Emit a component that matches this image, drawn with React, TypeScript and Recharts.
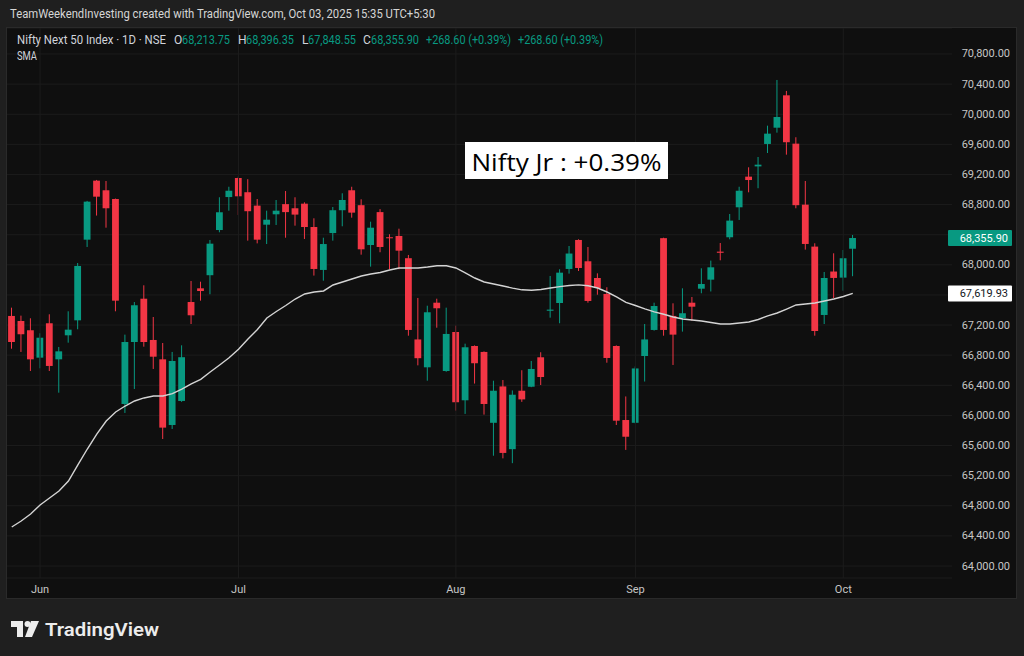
import React from 'react';
import { ComposedChart, Bar, Line, XAxis, YAxis, CartesianGrid, ReferenceLine } from 'recharts';

const dates = [
  'May 28', 'May 29', 'May 30',
  'Jun 2', 'Jun 3', 'Jun 4', 'Jun 5', 'Jun 6', 'Jun 9', 'Jun 10', 'Jun 11', 'Jun 12', 'Jun 13',
  'Jun 16', 'Jun 17', 'Jun 18', 'Jun 19', 'Jun 20', 'Jun 23', 'Jun 24', 'Jun 25', 'Jun 26', 'Jun 27', 'Jun 30',
  'Jul 1', 'Jul 2', 'Jul 3', 'Jul 4', 'Jul 7', 'Jul 8', 'Jul 9', 'Jul 10', 'Jul 11', 'Jul 14', 'Jul 15',
  'Jul 16', 'Jul 17', 'Jul 18', 'Jul 21', 'Jul 22', 'Jul 23', 'Jul 24', 'Jul 25', 'Jul 28', 'Jul 29', 'Jul 30', 'Jul 31',
  'Aug 1', 'Aug 4', 'Aug 5', 'Aug 6', 'Aug 7', 'Aug 8', 'Aug 11', 'Aug 12', 'Aug 13', 'Aug 14',
  'Aug 18', 'Aug 19', 'Aug 20', 'Aug 21', 'Aug 22', 'Aug 25', 'Aug 26', 'Aug 28', 'Aug 29',
  'Sep 1', 'Sep 2', 'Sep 3', 'Sep 4', 'Sep 5', 'Sep 8', 'Sep 9', 'Sep 10', 'Sep 11', 'Sep 12',
  'Sep 15', 'Sep 16', 'Sep 17', 'Sep 18', 'Sep 19', 'Sep 22', 'Sep 23', 'Sep 24', 'Sep 25', 'Sep 26',
  'Sep 29', 'Sep 30', 'Oct 1', 'Oct 3',
];

const opens = [
  67321, 67254, 67131,
  66767, 67224, 66745, 67064, 67263, 68334, 69118, 68990, 68874, 66152,
  66975, 67550, 67002, 66745, 65873, 66192, 67506, 67688, 67862, 68462, 68900,
  69153, 68964, 68786, 68533, 68671, 68806, 68751, 68812, 68502, 67932, 68422,
  68725, 68990, 68792, 68263, 68700, 68366, 68383, 68088, 67009, 66639, 67497, 66590,
  67108, 66201, 66922, 66843, 65902, 66385, 65552, 66328, 66381, 66772,
  67390, 67493, 67945, 68330, 68047, 67825, 67613, 66922, 65939,
  65902, 66789, 67135, 68354, 67321, 67294, 67497, 67683, 67803, 68175,
  68366, 68764, 69171, 69307, 69605, 69821, 70251, 69609, 68799, 68242,
  67334, 67911, 67830, 68213.75,
];

const highs = [
  67431, 67325, 67290,
  67091, 67343, 66909, 67383, 68024, 68849, 69127, 69113, 68880, 67073,
  67506, 67728, 67307, 66962, 66843, 66931, 67785, 67776, 68330, 68897, 69037,
  69170, 69137, 68874, 68719, 68861, 68980, 68897, 68830, 68618, 68360, 68768,
  68950, 69037, 68870, 68573, 68740, 68406, 68480, 68131, 67560, 67457, 67550, 67431,
  67192, 66953, 66930, 66850, 66461, 66470, 66332, 66600, 66723, 66839,
  67852, 67941, 68250, 68339, 68237, 67887, 67702, 66930, 66252,
  66650, 67214, 67497, 68360, 67489, 67688, 67573, 67954, 68056, 68290,
  68675, 69037, 69295, 69432, 69848, 70455, 70309, 69694, 69113, 68286,
  67905, 68153, 68197, 68396.35,
];

const lows = [
  66886, 66843, 66590,
  66626, 66590, 66302, 66966, 67144, 68237, 68654, 68493, 67383, 66033,
  66351, 66913, 66617, 65687, 65820, 66180, 67214, 67524, 67609, 68432, 68719,
  68662, 68321, 68285, 68276, 68529, 68360, 68520, 68343, 67857, 67789, 68321,
  68512, 68626, 68135, 67976, 68167, 67941, 67941, 67059, 66665, 66461, 67165, 66580,
  66064, 66020, 66423, 66011, 65465, 65430, 65366, 66180, 66375, 66404,
  67298, 67224, 67883, 67918, 67497, 67603, 66700, 65873, 65542,
  65895, 66450, 67126, 67059, 66670, 67113, 67258, 67622, 67646, 68060,
  68339, 68596, 68963, 69017, 69485, 69755, 69463, 68751, 68202, 67059,
  67214, 67556, 67656, 67848.55,
];

const closes = [
  66975, 67078, 66745,
  67032, 66657, 66851, 67139, 67985, 68839, 68905, 68751, 67524, 66975,
  67463, 66975, 66780, 65838, 66723, 66773, 67330, 67652, 68281, 68698, 68984,
  68910, 68712, 68334, 68599, 68719, 68700, 68667, 68502, 67945, 68276, 68725,
  68861, 68693, 68206, 68493, 68237, 68353, 68188, 67135, 66760, 67370, 67423, 67082,
  66175, 66905, 66693, 66152, 66328, 65502, 66275, 66213, 66617, 66510,
  67405, 67896, 68150, 67958, 67520, 67692, 66763, 65930, 65717,
  66624, 67009, 67453, 67135, 67073, 67357, 67444, 67745, 67967, 68160,
  68587, 68984, 69126, 69330, 69742, 69963, 69628, 68792, 68277, 67121,
  67825, 67826, 68087.3, 68355.9,
];

const sma = [
  64518, 64598, 64691, 64811, 64904, 64997, 65129, 65342, 65554, 65753,
  65926, 66046, 66125, 66192, 66232, 66258, 66258, 66290, 66350, 66420,
  66480, 66577, 66670, 66766, 66880, 67015, 67141, 67294, 67380, 67460,
  67546, 67613, 67639, 67653, 67732, 67772, 67812, 67852, 67878, 67898,
  67931, 67958, 67958, 67958, 67971, 67988, 67988, 67958, 67892, 67825,
  67772, 67745, 67719, 67690, 67668, 67662, 67672, 67692, 67710, 67726,
  67734, 67722, 67692, 67639, 67573, 67500, 67460, 67416, 67376, 67343,
  67307, 67281, 67267, 67254, 67234, 67214, 67214, 67228, 67241, 67274,
  67321, 67360, 67413, 67467, 67480, 67493, 67520, 67546, 67579, 67619.93,
];

const priceTicks = [
  64000, 64400, 64800, 65200, 65600, 66000, 66400, 66800, 67200,
  67600, 68000, 68400, 68800, 69200, 69600, 70000, 70400, 70800,
];
const monthStarts = ['Jun 2', 'Jul 1', 'Aug 1', 'Sep 1', 'Oct 1'];
const monthLabels = ['Jun', 'Jul', 'Aug', 'Sep', 'Oct'];
const padSlots = 10;
const yDomain = [63841, 71145];

const lastClose = 68355.9;
const lastSma = 67619.93;
const tagValues = [lastClose, lastSma];

const GREEN = '#089981';
const RED = '#f23645';
const AXIS_TEXT = '#c6c6c6';
const GRID = '#1c1c1c';

const data = [
  ...dates.map((d, i) => ({
    date: d,
    open: opens[i],
    high: highs[i],
    low: lows[i],
    close: closes[i],
    range: [lows[i], highs[i]],
    sma: sma[i],
  })),
  ...Array.from({ length: padSlots }, (_, k) => ({ date: `pad${k}` })),
];

const fmt = (v: number) =>
  v.toLocaleString('en-US', { minimumFractionDigits: 2, maximumFractionDigits: 2 });

const Candle = (props: any) => {
  const { x, y, width, height, payload } = props;
  if (!payload || payload.open == null || height == null) return <g />;
  const { open, close, high, low } = payload;
  const span = high - low || 1;
  const toY = (v: number) => y + ((high - v) / span) * height;
  const up = close >= open;
  const color = up ? GREEN : RED;
  const cx = x + width / 2;
  const top = toY(Math.max(open, close));
  const bot = toY(Math.min(open, close));
  const bh = Math.max(1, bot - top);
  return (
    <g>
      <line x1={cx} x2={cx} y1={y} y2={y + height} stroke={color} strokeWidth={1} />
      <rect x={cx - 3.4} y={top} width={6.8} height={bh} fill={color} />
    </g>
  );
};

const YTick = (props: any) => {
  const { x, y, payload } = props;
  // the scale's labels hidden behind the price tags (as in the reference)
  if (tagValues.some((t) => Math.abs(t - payload.value) < 150)) return <g />;
  return (
    <text x={x + 56} y={y} textAnchor="end" dominantBaseline="central" fill={AXIS_TEXT}
      fontSize={11} fontFamily="Roboto, sans-serif">
      {fmt(payload.value)}
    </text>
  );
};

const XTick = (props: any) => {
  const { x, y, payload } = props;
  const k = monthStarts.indexOf(payload.value);
  if (k < 0) return <g />;
  return (
    <text x={x} y={y + 9} textAnchor="middle" dominantBaseline="central" fill={AXIS_TEXT}
      fontSize={11} fontFamily="Roboto, sans-serif">
      {monthLabels[k]}
    </text>
  );
};

const makeTag = (value: number, bg: string, fg: string) => (props: any) => {
  const vb = props.viewBox || {};
  const right = (vb.x || 0) + (vb.width || 0);
  const y = vb.y || 0;
  return (
    <g>
      <rect x={right - 4} y={y - 8} width={64} height={16} fill={bg} rx={1} />
      <text x={right + 56} y={y} textAnchor="end" dominantBaseline="central" fill={fg}
        fontSize={11} fontFamily="Roboto, sans-serif">
        {fmt(value)}
      </text>
    </g>
  );
};

export default function App() {
  return (
    <div style={{ position: 'absolute', left: 0, top: 0, width: 1024, height: 656, background: '#1f1f1f', overflow: 'hidden' }}>
      <div style={{ position: 'absolute', left: 6, top: 27, width: 1009, height: 570, background: '#0f0f0f', border: '1px solid #2a2a2a' }} />
      <div style={{ position: 'absolute', left: 7, top: 28 }}>
        <ComposedChart width={1009} height={570} data={data} margin={{ top: 0, right: 0, bottom: 0, left: 0 }}>
          <CartesianGrid stroke={GRID} vertical={false} />
          <XAxis dataKey="date" interval={0} height={20} axisLine={false} tickLine={false} tickSize={0} tick={<XTick />} />
          <YAxis orientation="right" width={64} domain={yDomain} ticks={priceTicks} allowDataOverflow
            axisLine={false} tickLine={false} tickSize={0} tick={<YTick />} />
          {monthStarts.map((m) => (
            <ReferenceLine key={m} x={m} stroke={GRID} strokeWidth={1} />
          ))}
          <Line type="linear" dataKey="sma" stroke="#d4d4d4" strokeWidth={1.4} dot={false} activeDot={false} isAnimationActive={false} />
          <Bar dataKey="range" barSize={7} shape={<Candle />} isAnimationActive={false} />
          <ReferenceLine y={lastSma} stroke="none" label={makeTag(lastSma, '#ffffff', '#131722')} />
          <ReferenceLine y={lastClose} stroke="none" label={makeTag(lastClose, GREEN, '#ffffff')} />
        </ComposedChart>
      </div>
      <svg width={1024} height={656} style={{ position: 'absolute', left: 0, top: 0, pointerEvents: 'none' }}
        fontFamily="Roboto, sans-serif">
        <text x={10} y={14} dominantBaseline="central" fill="#d6d6d6" fontSize={12} textLength={425} lengthAdjust="spacingAndGlyphs">
          TeamWeekendInvesting created with TradingView.com, Oct 03, 2025 15:35 UTC+5:30
        </text>
        <g fontSize={12}>
          <text x={17} y={40} dominantBaseline="central" fill="#d1d4dc" textLength={149} lengthAdjust="spacingAndGlyphs">Nifty Next 50 Index · 1D · NSE</text>
          <text x={174} y={40} dominantBaseline="central" fill="#d1d4dc">O</text>
          <text x={182} y={40} dominantBaseline="central" fill={GREEN} textLength={48} lengthAdjust="spacingAndGlyphs">68,213.75</text>
          <text x={238} y={40} dominantBaseline="central" fill="#d1d4dc">H</text>
          <text x={246} y={40} dominantBaseline="central" fill={GREEN} textLength={48} lengthAdjust="spacingAndGlyphs">68,396.35</text>
          <text x={302} y={40} dominantBaseline="central" fill="#d1d4dc">L</text>
          <text x={308} y={40} dominantBaseline="central" fill={GREEN} textLength={48} lengthAdjust="spacingAndGlyphs">67,848.55</text>
          <text x={363} y={40} dominantBaseline="central" fill="#d1d4dc">C</text>
          <text x={371} y={40} dominantBaseline="central" fill={GREEN} textLength={48} lengthAdjust="spacingAndGlyphs">68,355.90</text>
          <text x={426} y={40} dominantBaseline="central" fill={GREEN} textLength={85} lengthAdjust="spacingAndGlyphs">+268.60 (+0.39%)</text>
          <text x={518} y={40} dominantBaseline="central" fill={GREEN} textLength={85} lengthAdjust="spacingAndGlyphs">+268.60 (+0.39%)</text>
          <text x={17} y={56} dominantBaseline="central" fill="#d1d4dc" textLength={20} lengthAdjust="spacingAndGlyphs">SMA</text>
        </g>
        <rect x={465} y={142} width={203} height={37} fill="#ffffff" />
        <text x={566.5} y={161} textAnchor="middle" dominantBaseline="central" fill="#000000" fontSize={24}
          fontFamily="'Open Sans', sans-serif" textLength={190} lengthAdjust="spacingAndGlyphs">
          Nifty Jr : +0.39%
        </text>
        <g fill="#ececec">
          <path d="M11 621 H23 V637 H17 V627 H11 Z" />
          <circle cx={27.5} cy={624} r={3} />
          <path d="M31 621 H39 L32 637 H25 Z" />
          <text x={45} y={629} dominantBaseline="central" fontSize={19} fontWeight={600}
            textLength={114} lengthAdjust="spacingAndGlyphs">TradingView</text>
        </g>
      </svg>
    </div>
  );
}
